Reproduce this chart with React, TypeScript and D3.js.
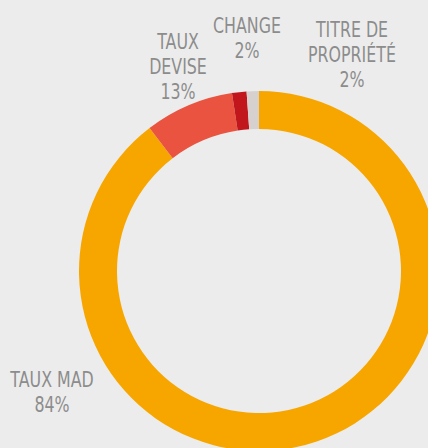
import React from 'react';
import * as d3 from 'd3';

// slices (angles), clockwise from 12 o'clock
const categories = ['TAUX MAD', 'TAUX DEVISE', 'CHANGE', 'TITRE DE PROPRIÉTÉ'];
const sliceValues = [89.6, 8.0, 1.3, 1.1];
const percentLabels = ['84%', '13%', '2%', '2%'];
const labelLines = [['TAUX MAD'], ['TAUX', 'DEVISE'], ['CHANGE'], ['TITRE DE', 'PROPRIÉTÉ']];
const sliceColors = ['#f7a600', '#e9533f', '#c1161c', '#d6d1ce'];

// label anchors (centre x, first baseline y)
const labelAnchors = [
  { x: 52, y: 387 },
  { x: 178, y: 49 },
  { x: 247, y: 33 },
  { x: 352, y: 37 },
];

const W = 428;
const H = 448;
const cx = 259;
const cy = 271;
const outerR = 180;
const innerR = 142;
const lineH = 25;

const App: React.FC = () => {
  const pie = d3
    .pie<number>()
    .sort(null)
    .value((d) => d);
  const arcs = pie(sliceValues);
  const arc = d3.arc<d3.PieArcDatum<number>>().innerRadius(innerR).outerRadius(outerR);

  return (
    <svg
      width={W}
      height={H}
      style={{ position: 'absolute', left: 0, top: 0, background: '#ececec' }}
    >
      <rect width={W} height={H} fill="#ececec" />
      <g transform={`translate(${cx},${cy})`}>
        {arcs.map((a, i) => (
          <path key={categories[i]} d={arc(a) || ''} fill={sliceColors[i]} />
        ))}
      </g>
      {labelLines.map((lines, i) => (
        <g
          key={categories[i]}
          transform={`translate(${labelAnchors[i].x},${labelAnchors[i].y}) scale(0.72,1)`}
          fontFamily="'DejaVu Sans', sans-serif"
          fontSize={22}
          fill="#8c8c8c"
          textAnchor="middle"
        >
          {[...lines, percentLabels[i]].map((t, j) => (
            <text key={j} y={j * lineH}>
              {t}
            </text>
          ))}
        </g>
      ))}
    </svg>
  );
};

export default App;
